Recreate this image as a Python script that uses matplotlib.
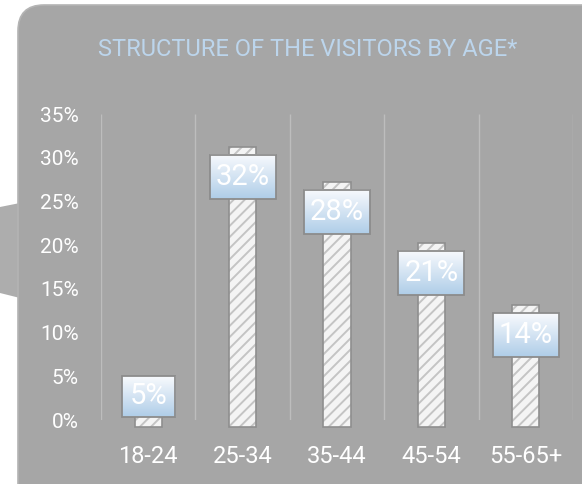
import numpy as np
import matplotlib
matplotlib.use("Agg")
import matplotlib.pyplot as plt
import matplotlib.transforms as mtransforms
from matplotlib.patches import FancyBboxPatch, Polygon, Rectangle
from matplotlib.colors import LinearSegmentedColormap

# data
age_groups = ["18-24", "25-34", "35-44", "45-54", "55-65+"]
shares = [5, 32, 28, 21, 14]
y_ticks = [0, 5, 10, 15, 20, 25, 30, 35]
title = "STRUCTURE OF THE VISITORS BY AGE*"

FONT = ["Roboto", "DejaVu Sans"]
W, H = 582, 484
fig = plt.figure(figsize=(W / 100, H / 100), dpi=100)
fig.patch.set_facecolor("white")

# background panel in pixel coordinates
bg = fig.add_axes([0, 0, 1, 1], zorder=-1)
bg.set_xlim(0, W)
bg.set_ylim(H, 0)
bg.axis("off")
bg.add_patch(Polygon([(0, 207), (20, 203), (20, 298), (0, 293)],
                     closed=True, facecolor="#adadad", edgecolor="none"))
bg.add_patch(FancyBboxPatch((18, 5), 640, 560,
                            boxstyle="round,pad=0,rounding_size=26",
                            facecolor="#a6a6a6", edgecolor="#b4b4b4", lw=1.2))
bg.text(308, 50, title, ha="center", va="center", color="#bcd5ec",
        fontsize=17, family=FONT, fontweight="normal")

# main chart
ax = fig.add_axes([101 / W, (H - 420) / H, 472 / W, 306 / H])
ax.set_facecolor("none")
x = np.arange(len(age_groups))
ax.set_xlim(-0.5, len(age_groups) - 0.5)
ax.set_ylim(0, 35)
for s in ax.spines.values():
    s.set_visible(False)

grid_c = "#bdbdbd"
ax.vlines(np.arange(len(age_groups) + 1) - 0.5, 0, 35, color=grid_c, lw=1, zorder=1)
ax.hlines(-0.25, -0.5, len(age_groups) - 0.5, color=grid_c, lw=1, zorder=1)

# bars drawn slightly shifted down (shadow-like offset in the original)
shift = ax.transData + mtransforms.Affine2D().translate(0, -7)
plt.rcParams["hatch.linewidth"] = 1.4
hb = ax.bar(x, shares, width=0.29, color="#f4f4f4", edgecolor="#c4c4c4",
            hatch="///", lw=0, zorder=2)
eb = ax.bar(x, shares, width=0.29, color="none", edgecolor="#8e8e8e",
            lw=1.2, zorder=2.1)
for p in list(hb) + list(eb):
    p.set_transform(shift)
    p.set_clip_on(False)

# label boxes with gradient
cmap = LinearSegmentedColormap.from_list("lbl", ["#afcde8", "#f8fafd"])
grad = np.linspace(0, 1, 64).reshape(-1, 1)
inv = ax.transData.inverted()
base_disp = ax.transData.transform((0, 0))[1]
for xi, v in zip(x, shares):
    txt = f"{v}%"
    bw = 66 if len(txt) > 2 else 53
    bh = 44 if len(txt) > 2 else 41
    cx, vy = ax.transData.transform((xi, v))
    cy = max(vy - 37, base_disp + bh / 2 + 3)
    (x0, y0) = inv.transform((cx - bw / 2, cy - bh / 2))
    (x1, y1) = inv.transform((cx + bw / 2, cy + bh / 2))
    ax.imshow(grad, cmap=cmap, extent=[x0, x1, y0, y1], origin="lower",
              aspect="auto", zorder=3, interpolation="bilinear")
    ax.add_patch(Rectangle((x0, y0), x1 - x0, y1 - y0, facecolor="none",
                           edgecolor="#8c8c8c", lw=1.3, zorder=3.1))
    ax.text(xi, (y0 + y1) / 2, txt, ha="center", va="center", color="white",
            fontsize=21, family=FONT, fontweight="normal", zorder=4)

ax.set_xlim(-0.5, len(age_groups) - 0.5)
ax.set_ylim(0, 35)

ax.set_yticks(y_ticks)
ax.set_yticklabels([f"{t}%" for t in y_ticks], color="white", fontsize=15,
                   family=FONT, fontweight="normal")
ax.set_xticks(x)
ax.set_xticklabels(age_groups, color="white", fontsize=17,
                   family=FONT, fontweight="normal")
ax.tick_params(axis="y", length=0, pad=16)
ax.tick_params(axis="x", length=0, pad=18)

fig.savefig("out.png", dpi=100)
